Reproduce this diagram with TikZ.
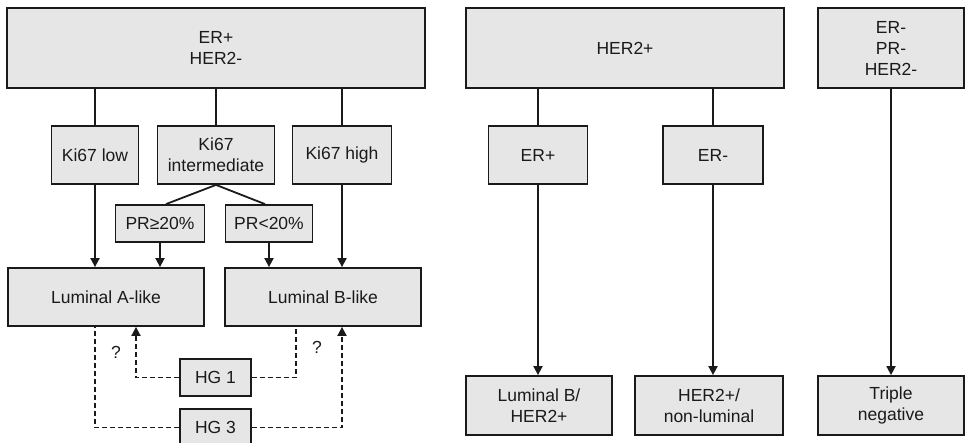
\documentclass[tikz,border=0pt]{standalone}
\usepackage{fontspec}
\setmainfont{Liberation Sans}
\usetikzlibrary{arrows.meta}
\definecolor{boxfill}{HTML}{E6E6E6}
\definecolor{ink}{HTML}{1A1A1A}
\begin{document}
\begin{tikzpicture}[x=1pt,y=-1pt,
  box/.style={draw=ink, fill=boxfill, line width=1.8pt, rectangle, inner sep=0pt,
    align=center, text=ink, font=\fontsize{17.5}{21}\selectfont},
  conn/.style={draw=ink, line width=1.8pt},
  arr/.style={conn, -{Triangle[length=9pt,width=9pt]}},
  dsh/.style={conn, dash pattern=on 5pt off 3pt},
  qlabel/.style={text=ink, font=\fontsize{17.5}{21}\selectfont, inner sep=0pt}]
\useasboundingbox (0,0) rectangle (965,443);
% top row
\node[box, minimum width=418, minimum height=80] (er) at (216,48) {ER+\\HER2-};
\node[box, minimum width=318, minimum height=80] (her) at (625,48) {HER2+};
\node[box, minimum width=146, minimum height=80] (tnt) at (891,48) {ER-\\PR-\\HER2-};
% Ki67 row
\node[box, minimum width=87, minimum height=58] (k1) at (95,155) {Ki67 low};
\node[box, minimum width=117, minimum height=58] (k2) at (216,155) {Ki67\\intermediate};
\node[box, minimum width=99, minimum height=58] (k3) at (342,155) {Ki67 high};
\node[box, minimum width=99, minimum height=58] (erp) at (538,155) {ER+};
\node[box, minimum width=100, minimum height=58] (erm) at (713,155) {ER-};
% PR row
\node[box, minimum width=89, minimum height=37] (pr1) at (160,223.5) {PR≥20\%};
\node[box, minimum width=87, minimum height=37] (pr2) at (269,223.5) {PR<20\%};
% luminal row
\node[box, minimum width=196, minimum height=58] (la) at (106,297) {Luminal A-like};
\node[box, minimum width=196, minimum height=58] (lb) at (323,297) {Luminal B-like};
% HG
\node[box, minimum width=71, minimum height=37] (hg1) at (215.5,377.5) {HG 1};
\node[box, minimum width=71, minimum height=37] (hg3) at (215.5,427.5) {HG 3};
% bottom right
\node[box, minimum width=146, minimum height=59] (lbh) at (539,405.5) {Luminal B/\\HER2+};
\node[box, minimum width=148, minimum height=59] (hnl) at (709,405.5) {HER2+/\\non-luminal};
\node[box, minimum width=146, minimum height=59] (tn) at (891,405.5) {Triple\\negative};
% question marks
\node[qlabel] (q1) at (116,352) {?};
\node[qlabel] (q2) at (317,347) {?};
% connectors left panel
\draw[conn] (k1 |- er.south) -- (k1.north);
\draw[conn] (k2 |- er.south) -- (k2.north);
\draw[conn] (k3 |- er.south) -- (k3.north);
\draw[conn] (k2.south) -- ([xshift=6pt]pr1.north);
\draw[conn] (k2.south) -- ([xshift=-4pt]pr2.north);
\draw[arr] (k1.south) -- (k1 |- la.north);
\draw[arr] (pr1.south) -- (pr1 |- la.north);
\draw[arr] (pr2.south) -- (pr2 |- lb.north);
\draw[arr] (k3.south) -- (k3 |- lb.north);
% dashed
\draw[dsh, -{Triangle[length=9pt,width=9pt]}] (hg1.west) -| ([xshift=30pt]la.south);
\draw[dsh] (hg1.east) -| ([xshift=-27pt]lb.south);
\draw[dsh] (hg3.west) -| (k1 |- la.south);
\draw[dsh, -{Triangle[length=9pt,width=9pt]}] (hg3.east) -| (k3 |- lb.south);
% right panels
\draw[conn] (erp |- her.south) -- (erp.north);
\draw[conn] (erm |- her.south) -- (erm.north);
\draw[arr] (erp.south) -- (erp |- lbh.north);
\draw[arr] (erm.south) -- (erm |- hnl.north);
\draw[arr] (tnt.south) -- (tnt |- tn.north);
\end{tikzpicture}
\end{document}
